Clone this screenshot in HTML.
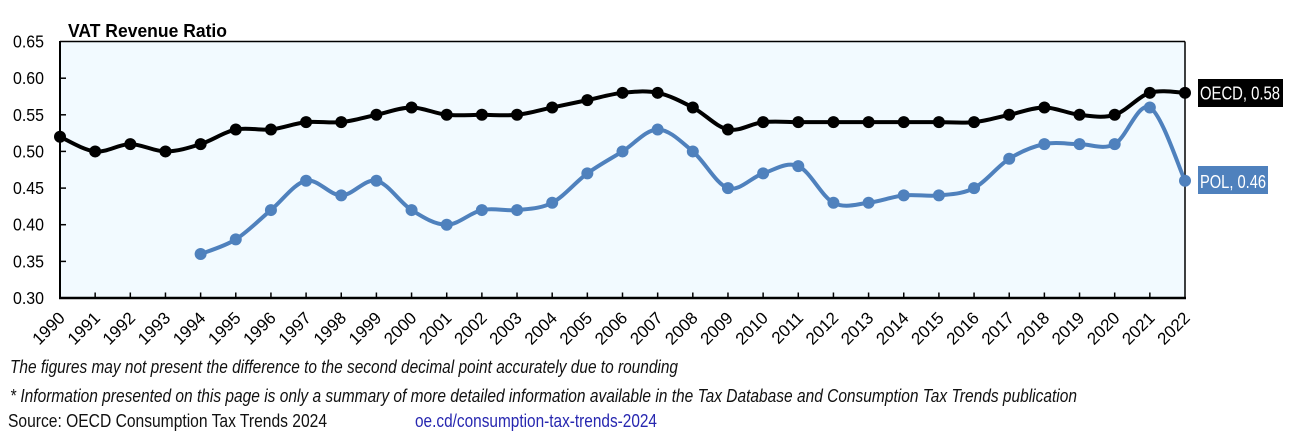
<!DOCTYPE html>
<html>
<head>
<meta charset="utf-8">
<style>
  html,body{margin:0;padding:0;background:#ffffff;}
  body{width:1296px;height:441px;overflow:hidden;}
  svg{display:block;}
  text{font-family:"Liberation Sans",Arial,sans-serif;}
</style>
</head>
<body>
<svg id="chart" width="1296" height="441" viewBox="0 0 1296 441" xmlns="http://www.w3.org/2000/svg">
  <rect x="0" y="0" width="1296" height="441" fill="#ffffff"/>
  <!-- plot background -->
  <rect x="60" y="41.5" width="1125" height="256.5" fill="#f2faff"/>

  <!-- title -->
  <text x="68" y="37" font-size="18.5" font-weight="bold" fill="#000" textLength="159" lengthAdjust="spacingAndGlyphs">VAT Revenue Ratio</text>

  <!-- borders -->
  <line x1="60" y1="41.5" x2="1185" y2="41.5" stroke="#000" stroke-width="1.5"/>
  <line x1="1185" y1="41.5" x2="1185" y2="298" stroke="#000" stroke-width="1.5"/>
  <line x1="60" y1="41" x2="60" y2="299" stroke="#000" stroke-width="2"/>
  <line x1="59" y1="298" x2="1186" y2="298" stroke="#000" stroke-width="2.5"/>

  <!-- y ticks -->
  <g stroke="#000" stroke-width="1.5">
    <line x1="60" y1="261.4" x2="66" y2="261.4"/>
    <line x1="60" y1="224.7" x2="66" y2="224.7"/>
    <line x1="60" y1="188.1" x2="66" y2="188.1"/>
    <line x1="60" y1="151.4" x2="66" y2="151.4"/>
    <line x1="60" y1="114.8" x2="66" y2="114.8"/>
    <line x1="60" y1="78.2" x2="66" y2="78.2"/>
  </g>
  <g id="xticks" stroke="#000" stroke-width="1.5"></g>

  <!-- y labels -->
  <g font-size="17.5" fill="#000" text-anchor="end">
    <text x="44" y="304" textLength="31" lengthAdjust="spacingAndGlyphs">0.30</text>
    <text x="44" y="267.4" textLength="31" lengthAdjust="spacingAndGlyphs">0.35</text>
    <text x="44" y="230.7" textLength="31" lengthAdjust="spacingAndGlyphs">0.40</text>
    <text x="44" y="194.1" textLength="31" lengthAdjust="spacingAndGlyphs">0.45</text>
    <text x="44" y="157.4" textLength="31" lengthAdjust="spacingAndGlyphs">0.50</text>
    <text x="44" y="120.8" textLength="31" lengthAdjust="spacingAndGlyphs">0.55</text>
    <text x="44" y="84.2" textLength="31" lengthAdjust="spacingAndGlyphs">0.60</text>
    <text x="44" y="47.5" textLength="31" lengthAdjust="spacingAndGlyphs">0.65</text>
  </g>

  <!-- x labels -->
  <g font-size="17" fill="#000" text-anchor="end">
    <text transform="translate(66,319) rotate(-45)">1990</text>
    <text transform="translate(101.2,319) rotate(-45)">1991</text>
    <text transform="translate(136.3,319) rotate(-45)">1992</text>
    <text transform="translate(171.5,319) rotate(-45)">1993</text>
    <text transform="translate(206.6,319) rotate(-45)">1994</text>
    <text transform="translate(241.8,319) rotate(-45)">1995</text>
    <text transform="translate(276.9,319) rotate(-45)">1996</text>
    <text transform="translate(312.1,319) rotate(-45)">1997</text>
    <text transform="translate(347.3,319) rotate(-45)">1998</text>
    <text transform="translate(382.4,319) rotate(-45)">1999</text>
    <text transform="translate(417.6,319) rotate(-45)">2000</text>
    <text transform="translate(452.7,319) rotate(-45)">2001</text>
    <text transform="translate(487.9,319) rotate(-45)">2002</text>
    <text transform="translate(523.0,319) rotate(-45)">2003</text>
    <text transform="translate(558.2,319) rotate(-45)">2004</text>
    <text transform="translate(593.3,319) rotate(-45)">2005</text>
    <text transform="translate(628.5,319) rotate(-45)">2006</text>
    <text transform="translate(663.7,319) rotate(-45)">2007</text>
    <text transform="translate(698.8,319) rotate(-45)">2008</text>
    <text transform="translate(734.0,319) rotate(-45)">2009</text>
    <text transform="translate(769.1,319) rotate(-45)">2010</text>
    <text transform="translate(804.3,319) rotate(-45)">2011</text>
    <text transform="translate(839.4,319) rotate(-45)">2012</text>
    <text transform="translate(874.6,319) rotate(-45)">2013</text>
    <text transform="translate(909.8,319) rotate(-45)">2014</text>
    <text transform="translate(944.9,319) rotate(-45)">2015</text>
    <text transform="translate(980.1,319) rotate(-45)">2016</text>
    <text transform="translate(1015.2,319) rotate(-45)">2017</text>
    <text transform="translate(1050.4,319) rotate(-45)">2018</text>
    <text transform="translate(1085.5,319) rotate(-45)">2019</text>
    <text transform="translate(1120.7,319) rotate(-45)">2020</text>
    <text transform="translate(1155.8,319) rotate(-45)">2021</text>
    <text transform="translate(1191,319) rotate(-45)">2022</text>
  </g>

  <!-- series -->
  <g id="series"></g>

  <!-- end labels -->
  <rect x="1198" y="79" width="85" height="28" fill="#000"/>
  <text x="1200" y="99.5" font-size="18" fill="#fff" textLength="80" lengthAdjust="spacingAndGlyphs">OECD, 0.58</text>
  <rect x="1198" y="166" width="70" height="28" fill="#4f81bd"/>
  <text x="1200" y="188" font-size="18" fill="#fff" textLength="66" lengthAdjust="spacingAndGlyphs">POL, 0.46</text>

  <!-- footer -->
  <text x="10" y="373" font-size="18" font-style="italic" fill="#111" textLength="668" lengthAdjust="spacingAndGlyphs">The figures may not present the difference to the second decimal point accurately due to rounding</text>
  <text x="10" y="402" font-size="18" font-style="italic" fill="#111" textLength="1067" lengthAdjust="spacingAndGlyphs">* Information presented on this page is only a summary of more detailed information available in the Tax Database and Consumption Tax Trends publication</text>
  <text x="8" y="427" font-size="18" fill="#111" textLength="319" lengthAdjust="spacingAndGlyphs">Source: OECD Consumption Tax Trends 2024</text>
  <text x="415" y="427" font-size="18" fill="#2727b0" textLength="242" lengthAdjust="spacingAndGlyphs">oe.cd/consumption-tax-trends-2024</text>
</svg>
<script>
(function(){
  var NS="http://www.w3.org/2000/svg";
  function X(i){return 60+i*35.15625;}
  function Y(v){return 298-(v-0.30)*732.8;}
  var ticks=document.getElementById("xticks");
  for(var i=1;i<32;i++){
    var l=document.createElementNS(NS,"line");
    l.setAttribute("x1",X(i));l.setAttribute("x2",X(i));
    l.setAttribute("y1",298);l.setAttribute("y2",292.5);
    ticks.appendChild(l);
  }
  var oecd=[0.52,0.50,0.51,0.50,0.51,0.53,0.53,0.54,0.54,0.55,0.56,0.55,0.55,0.55,0.56,0.57,0.58,0.58,0.56,0.53,0.54,0.54,0.54,0.54,0.54,0.54,0.54,0.55,0.56,0.55,0.55,0.58,0.58];
  var pol=[null,null,null,null,0.36,0.38,0.42,0.46,0.44,0.46,0.42,0.40,0.42,0.42,0.43,0.47,0.50,0.53,0.50,0.45,0.47,0.48,0.43,0.43,0.44,0.44,0.45,0.49,0.51,0.51,0.51,0.56,0.46];
  function draw(data,color,w,r){
    var pts=[];
    for(var i=0;i<data.length;i++){ if(data[i]!==null) pts.push([X(i),Y(data[i])]); }
    var d="M"+pts[0][0].toFixed(2)+","+pts[0][1].toFixed(2);
    for(var k=0;k<pts.length-1;k++){
      var p0=pts[k>0?k-1:k],p1=pts[k],p2=pts[k+1],p3=pts[k+2<pts.length?k+2:k+1];
      var c1x=p1[0]+(p2[0]-p0[0])/6,c1y=p1[1]+(p2[1]-p0[1])/6;
      var c2x=p2[0]-(p3[0]-p1[0])/6,c2y=p2[1]-(p3[1]-p1[1])/6;
      d+=" C"+c1x.toFixed(2)+","+c1y.toFixed(2)+" "+c2x.toFixed(2)+","+c2y.toFixed(2)+" "+p2[0].toFixed(2)+","+p2[1].toFixed(2);
    }
    var g=document.getElementById("series");
    var p=document.createElementNS(NS,"path");
    p.setAttribute("d",d);p.setAttribute("fill","none");p.setAttribute("stroke",color);
    p.setAttribute("stroke-width",w);p.setAttribute("stroke-linejoin","round");p.setAttribute("stroke-linecap","round");
    g.appendChild(p);
    for(var m=0;m<pts.length;m++){
      var c=document.createElementNS(NS,"circle");
      c.setAttribute("cx",pts[m][0]);c.setAttribute("cy",pts[m][1]);c.setAttribute("r",r);c.setAttribute("fill",color);
      g.appendChild(c);
    }
  }
  draw(oecd,"#000000",4,6);
  draw(pol,"#4f81bd",4,6);
})();
</script>
</body>
</html>
